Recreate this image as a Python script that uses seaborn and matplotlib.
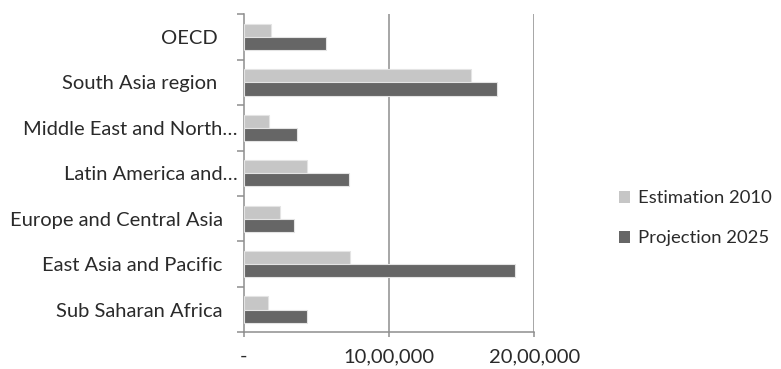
import matplotlib
matplotlib.use("Agg")
import matplotlib.pyplot as plt
import matplotlib.transforms as mtransforms
from matplotlib.ticker import FixedLocator
import pandas as pd
import seaborn as sns

regions = [
    "OECD ",
    "South Asia region ",
    "Middle East and North…",
    "Latin America and…",
    "Europe and Central Asia",
    "East Asia and Pacific",
    "Sub Saharan Africa",
]
estimation_2010 = [189000, 1566000, 171000, 434000, 251000, 734000, 166000]
projection_2025 = [565000, 1742000, 366000, 725000, 349000, 1866000, 439000]
series = ["Estimation 2010", "Projection 2025"]
x_ticks = [0, 1000000, 2000000]
x_tick_labels = ["-", "10,00,000", "20,00,000"]

df = pd.DataFrame({
    "region": regions * 2,
    "value": estimation_2010 + projection_2025,
    "series": [series[0]] * len(regions) + [series[1]] * len(regions),
})

sns.set_theme(style="white")
plt.rcParams["font.family"] = ["Lato", "DejaVu Sans"]
text_color = "#2a2a2a"
axis_color = "#8e8e8e"
fsize = 14.5

fig = plt.figure(figsize=(7.81, 3.69), dpi=100)
ax = fig.add_axes([0.312, 0.0995, 0.372, 0.862])

sns.barplot(
    data=df, y="region", x="value", hue="series", order=regions,
    hue_order=series, palette=["#c6c6c6", "#666666"], orient="h",
    width=0.58, edgecolor="#e4e4e4", linewidth=0.8, ax=ax, zorder=3,
)

ax.set_xlim(0, 2000000)
ax.set_ylim(len(regions) - 0.5, -0.5)
ax.set_xlabel("")
ax.set_ylabel("")

# vertical gridlines
for xv in x_ticks[1:]:
    ax.axvline(xv, color=axis_color, lw=1.1, zorder=1)

for side in ["top", "right"]:
    ax.spines[side].set_visible(False)
for side in ["left", "bottom"]:
    ax.spines[side].set_color(axis_color)
    ax.spines[side].set_linewidth(1.1)

ax.xaxis.set_major_locator(FixedLocator(x_ticks))
ax.set_xticklabels(x_tick_labels)
ax.tick_params(axis="x", direction="out", length=3.8, width=1.1, color=axis_color,
               labelsize=fsize, labelcolor=text_color, pad=7.5)
ax.xaxis.set_ticks_position("bottom")

# category boundary ticks on the y axis, labels centred without ticks
ax.yaxis.set_minor_locator(FixedLocator([i - 0.5 for i in range(len(regions) + 1)]))
ax.tick_params(axis="y", which="minor", direction="out", length=5, width=1.1,
               color=axis_color, left=True)
ax.tick_params(axis="y", which="major", length=0, labelsize=fsize,
               labelcolor=text_color, pad=15)
ax.yaxis.set_ticks_position("left")

shift = mtransforms.ScaledTranslation(15 / 100, 0, fig.dpi_scale_trans)
for lbl in ax.get_yticklabels():
    if lbl.get_text().endswith("…"):
        lbl.set_transform(lbl.get_transform() + shift)

leg = ax.legend(
    loc="center left", bbox_to_anchor=(1.235, 0.358), frameon=False,
    fontsize=13.3, handlelength=0.6, handleheight=0.6, handletextpad=0.45,
    labelspacing=1.3, labelcolor=text_color,
)
for h in leg.legend_handles:
    h.set_edgecolor("none")

fig.savefig("out.png", dpi=100, facecolor="white")
